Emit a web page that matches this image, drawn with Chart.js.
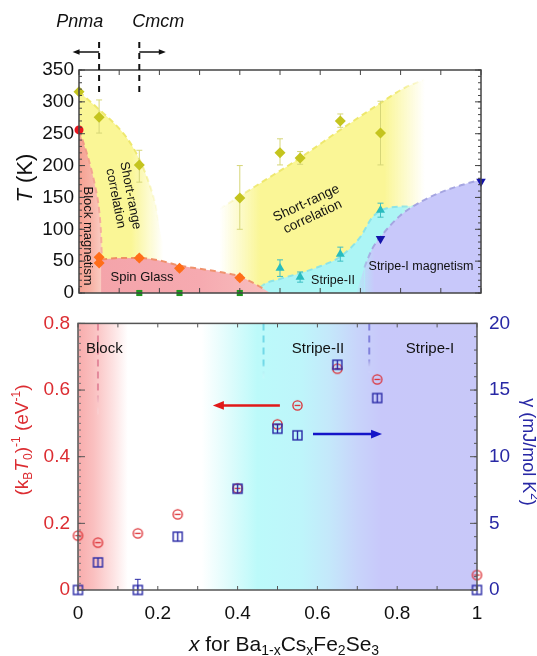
<!DOCTYPE html>
<html><head><meta charset="utf-8">
<script src="https://cdn.jsdelivr.net/npm/chart.js@4"></script>
<style>
html,body{margin:0;padding:0;background:#fff}
body{width:537px;height:656px;overflow:hidden;position:relative}
#c1{position:absolute;left:0;top:0;width:537px;height:310px}
#c2{position:absolute;left:0;top:300px;width:537px;height:356px}
</style></head><body>
<canvas id="c1" width="537" height="310"></canvas>
<canvas id="c2" width="537" height="356"></canvas>
<script>
// ---------------- Top panel: phase diagram (x, T in K) ----------------
const srX     = [0, 0.05, 0.15, 0.40, 0.50, 0.55, 0.65, 0.75];
const srT     = [316, 276, 201, 149, 220, 212, 270, 251];
const srErrLo = [0, 25, 27, 49, 19, 10, 10, 50];
const srErrHi = [0, 27, 23, 51, 22, 10, 11, 50];
const blockMagX = [0];
const blockMagT = [256];
const sgX   = [0.05, 0.05, 0.15, 0.25, 0.40];
const sgT   = [56, 47, 55, 39, 24];
const sgErr = [3, 3, 4, 4, 4];
const sgZeroX = [0.15, 0.25, 0.40];
const sgZeroT = [0, 0, 0];
const s2X   = [0.50, 0.55, 0.65, 0.75];
const s2T   = [39, 25, 61, 130];
const s2Err = [13, 8, 11, 11];
const s1X   = [0.75, 1.0];
const s1T   = [85, 175];
// phase boundaries
const bndBlockX = [0, 0.02, 0.04, 0.05, 0.055, 0.057, 0.057];
const bndBlockT = [256, 218, 168, 130, 90, 55, 0];
const bndSrLeftX = [0, 0.05, 0.10, 0.125, 0.15, 0.17, 0.19, 0.21, 0.21];
const bndSrLeftT = [316, 288, 258, 238, 210, 180, 140, 80, 0];
const bndSrRightX = [0.35, 0.45, 0.55, 0.65, 0.75, 0.81, 0.86];
const bndSrRightT = [132, 172, 212, 256, 298, 322, 335];
const bndSgX = [0.055, 0.055, 0.10, 0.15, 0.20, 0.25, 0.30, 0.35, 0.40, 0.43, 0.46, 0.475];
const bndSgT = [0, 53, 55, 55, 51, 43, 38, 33, 26, 17, 6, 0];
const bndS2X = [0.44, 0.45, 0.50, 0.55, 0.60, 0.65, 0.70, 0.73, 0.766, 0.82, 0.87];
const bndS2T = [0, 9, 22, 31, 42, 57, 88, 119, 133, 136, 138];
const bndS1X = [0.69, 0.71, 0.73, 0.75, 0.80, 0.85, 0.90, 0.95, 1.0];
const bndS1T = [0, 40, 70, 88, 122, 143, 158, 169, 178];

// ---------------- Bottom panel ----------------
const bX      = [0, 0.05, 0.15, 0.25, 0.40, 0.50, 0.55, 0.65, 0.75, 1.0];
const invKT0  = [0.163, 0.142, 0.170, 0.227, 0.305, 0.497, 0.554, 0.664, 0.632, 0.045];
const gammaV  = [0, 2.07, 0, 4.0, 7.6, 12.1, 11.6, 16.9, 14.4, 0];
const gammaErrHi = [0, 0, 0.8, 0, 0, 0, 0, 0, 0, 0];

const FF = "'Liberation Sans', Arial, sans-serif";
Chart.defaults.font.family = FF;
Chart.defaults.animation = false;

function xy(xs, ys) { return xs.map((x, i) => ({x, y: ys[i]})); }
function hGrad(chart, stops) {
  const a = chart.chartArea, xs = chart.scales.x;
  if (!a || !xs) return 'rgba(0,0,0,0)';
  const v0 = stops[0][0], v1 = stops[stops.length - 1][0];
  const g = chart.ctx.createLinearGradient(xs.getPixelForValue(v0), 0, xs.getPixelForValue(v1), 0);
  stops.forEach(([v, c]) => g.addColorStop((v - v0) / (v1 - v0), c));
  return g;
}
function region(xs, ts, fillStops, lineStops, order) {
  const pts = xy(xs, ts);
  return {
    type: 'line', data: pts, pointRadius: 0, pointHoverRadius: 0, borderWidth: 2, borderDash: [6, 4],
    fill: 'origin', cubicInterpolationMode: 'monotone', order,
    backgroundColor: c => hGrad(c.chart, fillStops),
    borderColor: c => hGrad(c.chart, lineStops),
    segment: { borderColor: s => { const a = pts[s.p0DataIndex], b = pts[s.p1DataIndex];
      return (a.y === 0 || b.y === 0 || a.x === b.x) ? 'rgba(0,0,0,0)' : undefined; } }
  };
}
function richText(ctx, parts, cx, cy, size, color, angle) {
  ctx.save();
  ctx.translate(cx, cy); ctx.rotate(angle || 0);
  ctx.fillStyle = color; ctx.textBaseline = 'middle'; ctx.textAlign = 'left';
  const fs = p => (p.i ? 'italic ' : '') + ((p.sub || p.sup) ? Math.round(size * 0.65) : size) + 'px ' + FF;
  let w = 0;
  for (const p of parts) { ctx.font = fs(p); w += ctx.measureText(p.t).width; }
  let x = -w / 2;
  for (const p of parts) {
    ctx.font = fs(p);
    const dy = p.sub ? size * 0.3 : (p.sup ? -size * 0.33 : 0);
    ctx.fillText(p.t, x, dy);
    x += ctx.measureText(p.t).width;
  }
  ctx.restore();
}
function text(ctx, s, x, y, size, color, angle, style) {
  ctx.save(); ctx.translate(x, y); ctx.rotate(angle || 0);
  ctx.font = (style || '') + ' ' + size + 'px ' + FF; ctx.fillStyle = color;
  ctx.textAlign = 'center'; ctx.textBaseline = 'middle';
  ctx.fillText(s, 0, 0); ctx.restore();
}
function arrow(ctx, x1, y1, x2, y2, color, lw, head) {
  ctx.save(); ctx.strokeStyle = color; ctx.fillStyle = color; ctx.lineWidth = lw;
  const ang = Math.atan2(y2 - y1, x2 - x1);
  ctx.beginPath(); ctx.moveTo(x1, y1); ctx.lineTo(x2 - Math.cos(ang) * head * 0.8, y2 - Math.sin(ang) * head * 0.8); ctx.stroke();
  ctx.beginPath(); ctx.moveTo(x2, y2);
  ctx.lineTo(x2 - head * Math.cos(ang) + head * 0.4 * Math.sin(ang), y2 - head * Math.sin(ang) - head * 0.4 * Math.cos(ang));
  ctx.lineTo(x2 - head * Math.cos(ang) - head * 0.4 * Math.sin(ang), y2 - head * Math.sin(ang) + head * 0.4 * Math.cos(ang));
  ctx.closePath(); ctx.fill(); ctx.restore();
}

const errPlugin = {
  id: 'errbars',
  beforeDatasetDraw(chart, args) {
    const ds = chart.data.datasets[args.index];
    if (!ds.errLo && !ds.errHi) return;
    const meta = args.meta, ys = chart.scales[meta.yAxisID], ctx = chart.ctx;
    ctx.save(); ctx.strokeStyle = ds.errColor; ctx.lineWidth = 1;
    ds.data.forEach((p, i) => {
      const lo = ds.errLo ? ds.errLo[i] : 0, hi = ds.errHi ? ds.errHi[i] : 0;
      if (!lo && !hi) return;
      const x = meta.data[i].x;
      const y1 = ys.getPixelForValue(p.y - lo), y2 = ys.getPixelForValue(p.y + hi);
      ctx.beginPath(); ctx.moveTo(x, y1); ctx.lineTo(x, y2);
      if (lo) { ctx.moveTo(x - 3, y1); ctx.lineTo(x + 3, y1); }
      if (hi) { ctx.moveTo(x - 3, y2); ctx.lineTo(x + 3, y2); }
      ctx.stroke();
    });
    ctx.restore();
  }
};

const framePlugin = {
  id: 'frame',
  afterDatasetsDraw(chart, args, opts) {
    const {ctx, chartArea: a} = chart;
    ctx.save();
    ctx.strokeStyle = opts.color; ctx.lineWidth = 1.5;
    ctx.strokeRect(a.left, a.top, a.right - a.left, a.bottom - a.top);
    ctx.lineWidth = 1;
    for (const t of opts.ticks) {
      const s = chart.scales[t.scale];
      ctx.strokeStyle = t.color || opts.color;
      ctx.beginPath();
      for (let k = 0; ; k++) {
        const v = s.min + k * t.step;
        if (v > s.max + 1e-9) break;
        const p = s.getPixelForValue(v);
        if (t.side === 'bottom') { ctx.moveTo(p, a.bottom); ctx.lineTo(p, a.bottom - t.len); }
        if (t.side === 'top') { ctx.moveTo(p, a.top); ctx.lineTo(p, a.top + t.len); }
        if (t.side === 'left') { ctx.moveTo(a.left, p); ctx.lineTo(a.left + t.len, p); }
        if (t.side === 'right') { ctx.moveTo(a.right, p); ctx.lineTo(a.right - t.len, p); }
      }
      ctx.stroke();
    }
    ctx.restore();
  }
};

// ---------- top annotations ----------
const topNotes = {
  id: 'topNotes',
  afterDatasetsDraw(chart) {
    const {ctx, chartArea: a} = chart;
    const X = v => chart.scales.x.getPixelForValue(v);
    // structure labels
    text(ctx, 'Pnma', X(0.002), 22, 18, '#111', 0, 'italic');
    text(ctx, 'Cmcm', X(0.197), 22, 18, '#111', 0, 'italic');
    ctx.save(); ctx.strokeStyle = '#111'; ctx.lineWidth = 2; ctx.setLineDash([6, 5]);
    ctx.beginPath();
    ctx.moveTo(X(0.05), a.top - 28); ctx.lineTo(X(0.05), a.top + 23);
    ctx.moveTo(X(0.15), a.top - 28); ctx.lineTo(X(0.15), a.top + 23);
    ctx.stroke(); ctx.restore();
    arrow(ctx, X(0.05), a.top - 18, X(-0.016), a.top - 18, '#111', 1.5, 7);
    arrow(ctx, X(0.15), a.top - 18, X(0.216), a.top - 18, '#111', 1.5, 7);
    // axis title
    richText(ctx, [{t: 'T', i: true}, {t: ' (K)'}], 26, 178, 22, '#111', -Math.PI / 2);
    // region labels
    text(ctx, 'Block magnetism', 88, 236, 13, '#111', Math.PI / 2);
    const r1 = 79 * Math.PI / 180;
    ctx.save(); ctx.translate(123, 197); ctx.rotate(r1);
    ctx.font = '13px ' + FF; ctx.fillStyle = '#111'; ctx.textAlign = 'center'; ctx.textBaseline = 'middle';
    ctx.fillText('Short-range', 0, -7.5); ctx.fillText('correlation', 0, 7.5); ctx.restore();
    text(ctx, 'Spin Glass', 142, 277, 13, '#111');
    const r2 = -25 * Math.PI / 180;
    ctx.save(); ctx.translate(309.5, 210); ctx.rotate(r2);
    ctx.font = '13.5px ' + FF; ctx.fillStyle = '#111'; ctx.textAlign = 'center'; ctx.textBaseline = 'middle';
    ctx.fillText('Short-range', 0, -7.5); ctx.fillText('correlation', 0, 7.5); ctx.restore();
    text(ctx, 'Stripe-II', 333, 281, 12.5, '#111');
    text(ctx, 'Stripe-I magnetism', 421, 267, 12.5, '#111');
  }
};

const YEL = 'rgba(250,246,150,1)', YEL0 = 'rgba(250,246,150,0)';
const YLN = 'rgba(238,232,110,1)', YLN0 = 'rgba(238,232,110,0)';
const CY = 'rgba(172,245,245,1)', CY0 = 'rgba(172,245,245,0)';
const CLN = 'rgba(140,228,232,1)', CLN0 = 'rgba(140,228,232,0)';
const PU = 'rgba(200,200,250,1)', PU0 = 'rgba(200,200,250,0)';

new Chart(document.getElementById('c1'), {
  type: 'scatter',
  data: { datasets: [
    // markers
    { data: xy(srX, srT), pointStyle: 'rectRot', pointRadius: 5.5, backgroundColor: 'rgb(196,196,30)', borderColor: 'rgb(196,196,30)', borderWidth: 0, errLo: srErrLo, errHi: srErrHi, errColor: 'rgb(214,214,120)', order: 1, clip: false },
    { data: xy(blockMagX, blockMagT), pointStyle: 'circle', pointRadius: 4.5, backgroundColor: 'rgb(232,20,30)', borderWidth: 0, order: 1, clip: false },
    { data: xy(sgX, sgT), pointStyle: 'rectRot', pointRadius: 5.5, backgroundColor: 'rgb(255,110,25)', borderWidth: 0, errLo: sgErr, errHi: sgErr, errColor: 'rgb(255,130,60)', order: 1, clip: false },
    { data: xy(sgZeroX, sgZeroT), pointStyle: 'rect', pointRadius: 4.3, backgroundColor: 'rgb(30,150,30)', borderWidth: 0, order: 1, clip: false },
    { data: xy(s2X, s2T), pointStyle: 'triangle', pointRadius: 5.2, backgroundColor: 'rgb(40,188,190)', borderWidth: 0, errLo: s2Err, errHi: s2Err, errColor: 'rgb(60,190,195)', order: 1, clip: false },
    { data: xy(s1X, s1T), pointStyle: 'triangle', rotation: 180, pointRadius: 5.5, backgroundColor: 'rgb(20,20,170)', borderWidth: 0, order: 1, clip: false },
    // phase regions (drawn behind)
    region(bndSgX, bndSgT, [[0.055, 'rgb(244,164,170)'], [0.3, 'rgb(246,170,176)'], [0.475, 'rgb(248,190,190)']],
      [[0.055, 'rgb(240,140,100)'], [0.475, 'rgb(240,150,115)']], 10),
    region(bndBlockX, bndBlockT, [[0, 'rgb(245,160,145)'], [0.03, 'rgb(247,178,165)'], [0.057, 'rgb(250,205,195)']],
      [[0, 'rgb(240,150,130)'], [0.057, 'rgb(245,175,160)']], 11),
    region(bndS1X, bndS1T, [[0.68, PU0], [0.735, PU], [1.0, PU]],
      [[0.68, 'rgba(165,165,225,0)'], [0.73, 'rgba(165,165,225,1)'], [1.0, 'rgba(165,165,225,1)']], 12),
    region(bndS2X, bndS2T, [[0.43, CY0], [0.465, CY], [0.8, CY], [0.87, CY0]],
      [[0.43, CLN0], [0.465, CLN], [0.8, CLN], [0.87, CLN0]], 13),
    region(bndSrRightX, bndSrRightT, [[0.35, YEL0], [0.45, YEL], [0.76, YEL], [0.86, YEL0]],
      [[0.35, YLN0], [0.45, YLN], [0.78, YLN], [0.86, YLN0]], 14),
    region(bndSrLeftX, bndSrLeftT, [[0, YEL], [0.13, YEL], [0.21, YEL0]],
      [[0, YLN], [0.14, YLN], [0.2, YLN0]], 15)
  ]},
  options: {
    responsive: false, animation: false,
    layout: { padding: { top: 70, bottom: 17, left: 0, right: 56 } },
    plugins: { legend: { display: false }, tooltip: { enabled: false },
      frame: { color: '#444', ticks: [
        {scale: 'x', side: 'top', step: 0.1, len: 5}, {scale: 'x', side: 'bottom', step: 0.1, len: 5},
        {scale: 'y', side: 'left', step: 10, len: 3}, {scale: 'y', side: 'left', step: 50, len: 6},
        {scale: 'y', side: 'right', step: 10, len: 3}, {scale: 'y', side: 'right', step: 50, len: 6}
      ]}
    },
    scales: {
      x: { type: 'linear', min: 0, max: 1, display: false },
      y: { type: 'linear', min: 0, max: 350, position: 'left',
        afterFit: s => { s.width = 79; },
        grid: { display: false, drawTicks: false }, border: { display: false },
        ticks: { stepSize: 50, padding: 5, color: '#111', font: { size: 19 } } }
    }
  },
  plugins: [errPlugin, framePlugin, topNotes]
});

// ---------- bottom panel ----------
function mkCircleMinus(color) {
  const c = document.createElement('canvas'); c.width = c.height = 13;
  const g = c.getContext('2d'); g.strokeStyle = color; g.lineWidth = 1.3;
  g.beginPath(); g.arc(6.5, 6.5, 4.6, 0, 2 * Math.PI); g.stroke();
  g.beginPath(); g.moveTo(3.6, 6.5); g.lineTo(9.4, 6.5); g.stroke();
  return c;
}
function mkSquareBar(color) {
  const c = document.createElement('canvas'); c.width = c.height = 13;
  const g = c.getContext('2d'); g.strokeStyle = color; g.lineWidth = 1.4;
  g.strokeRect(2, 2, 9, 9);
  g.beginPath(); g.moveTo(6.5, 2); g.lineTo(6.5, 11); g.stroke();
  return c;
}
const RED = 'rgb(220,45,50)', BLUE = 'rgb(40,40,165)';

const bottomBg = {
  id: 'bottomBg',
  beforeDatasetsDraw(chart) {
    const {ctx, chartArea: a} = chart;
    const X = v => chart.scales.x.getPixelForValue(v);
    ctx.save();
    ctx.fillStyle = hGrad(chart, [[0, 'rgb(248,172,172)'], [0.04, 'rgb(250,192,192)'], [0.09, 'rgb(253,228,228)'],
      [0.125, 'rgb(255,255,255)'], [0.31, 'rgb(255,255,255)'], [0.38, 'rgb(222,252,252)'], [0.45, 'rgb(188,250,250)'],
      [0.56, 'rgb(190,245,250)'], [0.63, 'rgb(196,232,250)'], [0.70, 'rgb(200,212,250)'], [0.76, 'rgb(200,200,250)'], [1, 'rgb(200,200,248)']]);
    ctx.fillRect(a.left, a.top, a.right - a.left, a.bottom - a.top);
    // phase boundary dashes
    const vl = (xv, len, col) => {
      const g = ctx.createLinearGradient(0, a.top, 0, a.top + len);
      g.addColorStop(0, col); g.addColorStop(0.7, col); g.addColorStop(1, 'rgba(255,255,255,0)');
      ctx.strokeStyle = g; ctx.lineWidth = 2; ctx.setLineDash([7, 5]);
      ctx.beginPath(); ctx.moveTo(X(xv), a.top); ctx.lineTo(X(xv), a.top + len); ctx.stroke();
    };
    vl(0.05, 95, 'rgba(225,130,150,0.9)');
    vl(0.465, 58, 'rgba(110,215,230,0.95)');
    vl(0.73, 50, 'rgba(120,120,215,0.9)');
    ctx.setLineDash([]);
    ctx.restore();
    ctx.save(); ctx.font = '15px ' + FF; ctx.fillStyle = '#111'; ctx.textBaseline = 'middle'; ctx.textAlign = 'left';
    ctx.fillText('Block', 86, a.top + 25);
    ctx.textAlign = 'center';
    ctx.fillText('Stripe-II', 318, a.top + 25);
    ctx.fillText('Stripe-I', 430, a.top + 25);
    ctx.restore();
    const yL = chart.scales.yL, yR = chart.scales.yR;
    arrow(ctx, X(0.506), yL.getPixelForValue(0.554), X(0.338), yL.getPixelForValue(0.554), 'rgb(225,25,25)', 2.5, 11);
    arrow(ctx, X(0.589), yR.getPixelForValue(11.7), X(0.762), yR.getPixelForValue(11.7), 'rgb(20,20,200)', 2.5, 11);
  },
  afterDatasetsDraw(chart) {
    const {ctx, chartArea: a} = chart;
    richText(ctx, [{t: 'x', i: true}, {t: ' for Ba'}, {t: '1-x', sub: true}, {t: 'Cs'}, {t: 'x', sub: true},
      {t: 'Fe'}, {t: '2', sub: true}, {t: 'Se'}, {t: '3', sub: true}], 284, a.bottom + 55, 21, '#111', 0);
    richText(ctx, [{t: '(k'}, {t: 'B', sub: true}, {t: 'T', i: true}, {t: '0', sub: true}, {t: ')'}, {t: '-1', sup: true},
      {t: ' (eV'}, {t: '-1', sup: true}, {t: ')'}], 23, 140, 19, RED, -Math.PI / 2);
    richText(ctx, [{t: 'γ (mJ/mol K'}, {t: '2', sup: true}, {t: ')'}], 528, 152, 18, BLUE, Math.PI / 2);
  }
};

new Chart(document.getElementById('c2'), {
  type: 'scatter',
  data: { datasets: [
    { data: xy(bX, invKT0), yAxisID: 'yL', pointStyle: mkCircleMinus(RED), pointRadius: 6, order: 2, clip: false },
    { data: xy(bX, gammaV), yAxisID: 'yR', pointStyle: mkSquareBar(BLUE), pointRadius: 6, errHi: gammaErrHi, errColor: BLUE, order: 1, clip: false }
  ]},
  options: {
    responsive: false, animation: false,
    layout: { padding: { top: 23, bottom: 0, left: 0, right: 0 } },
    plugins: { legend: { display: false }, tooltip: { enabled: false },
      frame: { color: '#555', ticks: [
        {scale: 'x', side: 'top', step: 0.1, len: 4}, {scale: 'x', side: 'bottom', step: 0.1, len: 4},
        {scale: 'yL', side: 'left', step: 0.02, len: 3, color: '#777'}, {scale: 'yL', side: 'left', step: 0.2, len: 7},
        {scale: 'yR', side: 'right', step: 1, len: 3, color: '#555'}, {scale: 'yR', side: 'right', step: 5, len: 7}
      ]}
    },
    scales: {
      x: { type: 'linear', min: 0, max: 1, position: 'bottom',
        afterFit: s => { s.height = 66; },
        grid: { display: false, drawTicks: false }, border: { display: false },
        ticks: { stepSize: 0.2, autoSkip: false, padding: 12, color: '#111', font: { size: 19 },
          callback: v => String(Math.round(v * 10) / 10) } },
      yL: { type: 'linear', min: 0, max: 0.8, position: 'left',
        afterFit: s => { s.width = 78; },
        grid: { display: false, drawTicks: false }, border: { display: false },
        ticks: { stepSize: 0.2, padding: 8, color: RED, font: { size: 19 },
          callback: v => String(Math.round(v * 10) / 10) } },
      yR: { type: 'linear', min: 0, max: 20, position: 'right',
        afterFit: s => { s.width = 60; },
        grid: { display: false, drawTicks: false }, border: { display: false },
        ticks: { stepSize: 5, padding: 12, color: BLUE, font: { size: 19 } } }
    }
  },
  plugins: [bottomBg, errPlugin, framePlugin]
});
</script>
</body></html>
